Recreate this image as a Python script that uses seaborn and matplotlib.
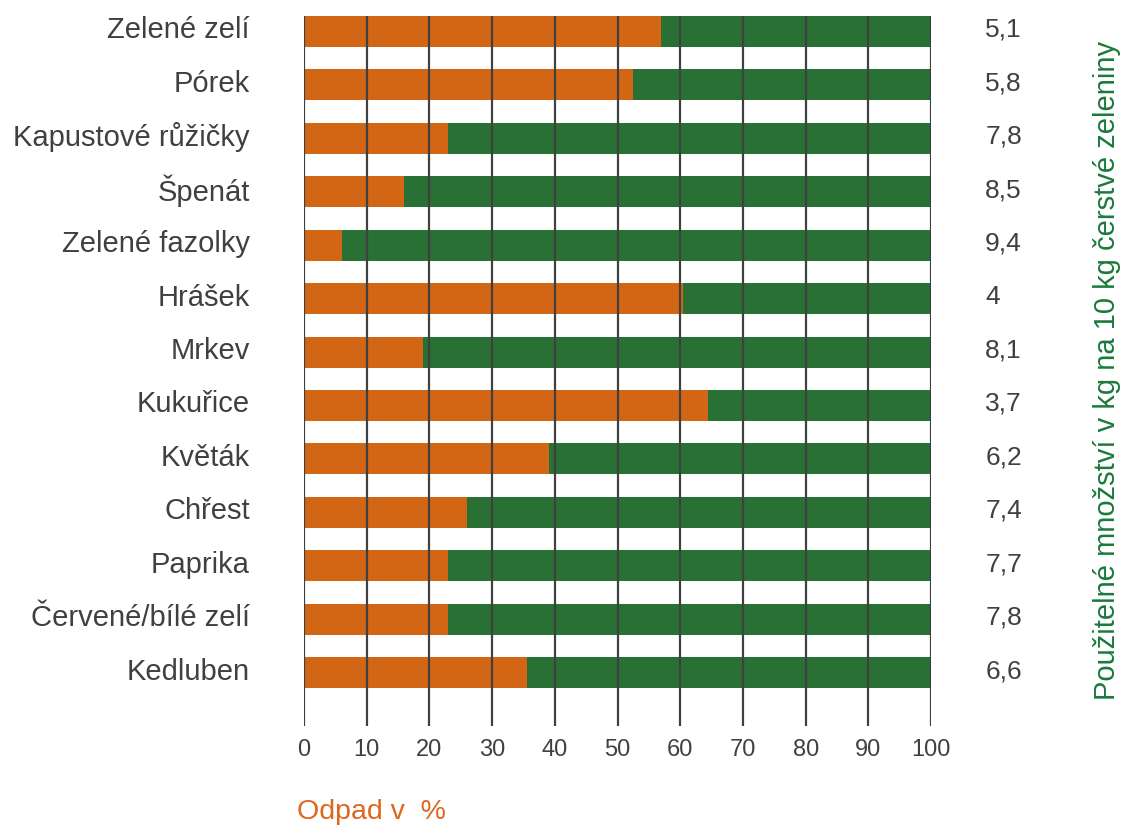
import pandas as pd
import matplotlib.pyplot as plt
import matplotlib.transforms as mtransforms
import seaborn as sns

VEGETABLES = ["Zelené zelí", "Pórek", "Kapustové růžičky", "Špenát", "Zelené fazolky",
              "Hrášek", "Mrkev", "Kukuřice", "Květák", "Chřest", "Paprika",
              "Červené/bílé zelí", "Kedluben"]
WASTE_PCT = [57, 52.5, 23, 16, 6, 60.5, 19, 64.5, 39, 26, 23, 23, 35.5]
USABLE_KG = [5.1, 5.8, 7.8, 8.5, 9.4, 4, 8.1, 3.7, 6.2, 7.4, 7.7, 7.8, 6.6]
X_TICKS = [0, 10, 20, 30, 40, 50, 60, 70, 80, 90, 100]

ORANGE = "#D26615"
GREEN = "#287034"
GRAY = "#404040"


def format_kg(value):
    text = f"{value:g}"
    return text.replace(".", ",")


def build_frame():
    df = pd.DataFrame({"veg": VEGETABLES, "waste": WASTE_PCT})
    df["rest"] = 100 - df["waste"]
    df["total"] = df["waste"] + df["rest"]
    return df


def nudge_labels(fig, labels, dy_px):
    offset = mtransforms.ScaledTranslation(0, dy_px / fig.dpi, fig.dpi_scale_trans)
    for label in labels:
        label.set_transform(label.get_transform() + offset)


def plot_figure(df):
    sns.set_theme(style="white")
    plt.rcParams["font.family"] = ["Liberation Sans", "DejaVu Sans"]

    fig = plt.figure(figsize=(11.25, 8.28), dpi=100)
    ax = fig.add_axes([0.2702, 0.122, 0.5574, 0.8575])

    sns.barplot(data=df, x="total", y="veg", orient="h", color=GREEN,
                width=0.58, saturation=1, linewidth=0, ax=ax)
    sns.barplot(data=df, x="waste", y="veg", orient="h", color=ORANGE,
                width=0.58, saturation=1, linewidth=0, ax=ax)

    ax.set_xlim(0, 100)
    ax.set_ylim(13.0, -0.29)
    ax.set_xticks(X_TICKS)
    ax.set_xlabel("")
    ax.set_ylabel("")
    for spine in ax.spines.values():
        spine.set_visible(False)

    ax.set_axisbelow(False)
    ax.grid(axis="x", color=GRAY, linewidth=1.6, zorder=5)
    ax.grid(axis="y", visible=False)
    ax.tick_params(axis="x", length=0, pad=9, labelsize=17, labelcolor=GRAY)
    ax.tick_params(axis="y", length=0, pad=39, labelsize=21, labelcolor=GRAY)
    nudge_labels(fig, ax.get_yticklabels(), 5)

    right = ax.twinx()
    right.set_ylim(ax.get_ylim())
    right.set_yticks(range(len(USABLE_KG)))
    right.set_yticklabels([format_kg(v) for v in USABLE_KG])
    right.tick_params(axis="y", length=0, pad=39, labelsize=19, labelcolor=GRAY)
    nudge_labels(fig, right.get_yticklabels(), 5)
    for spine in right.spines.values():
        spine.set_visible(False)
    right.grid(False)

    fig.text(0.984, 0.553, "Použitelné množství v kg na 10 kg čerstvé zeleniny",
             rotation=90, ha="center", va="center", fontsize=21, color="#1A7A3A")
    fig.text(0.264, 0.019, "Odpad v  %", ha="left", va="center",
             fontsize=20.5, color="#E0661E")

    fig.savefig("out.png", dpi=100)


plot_figure(build_frame())
